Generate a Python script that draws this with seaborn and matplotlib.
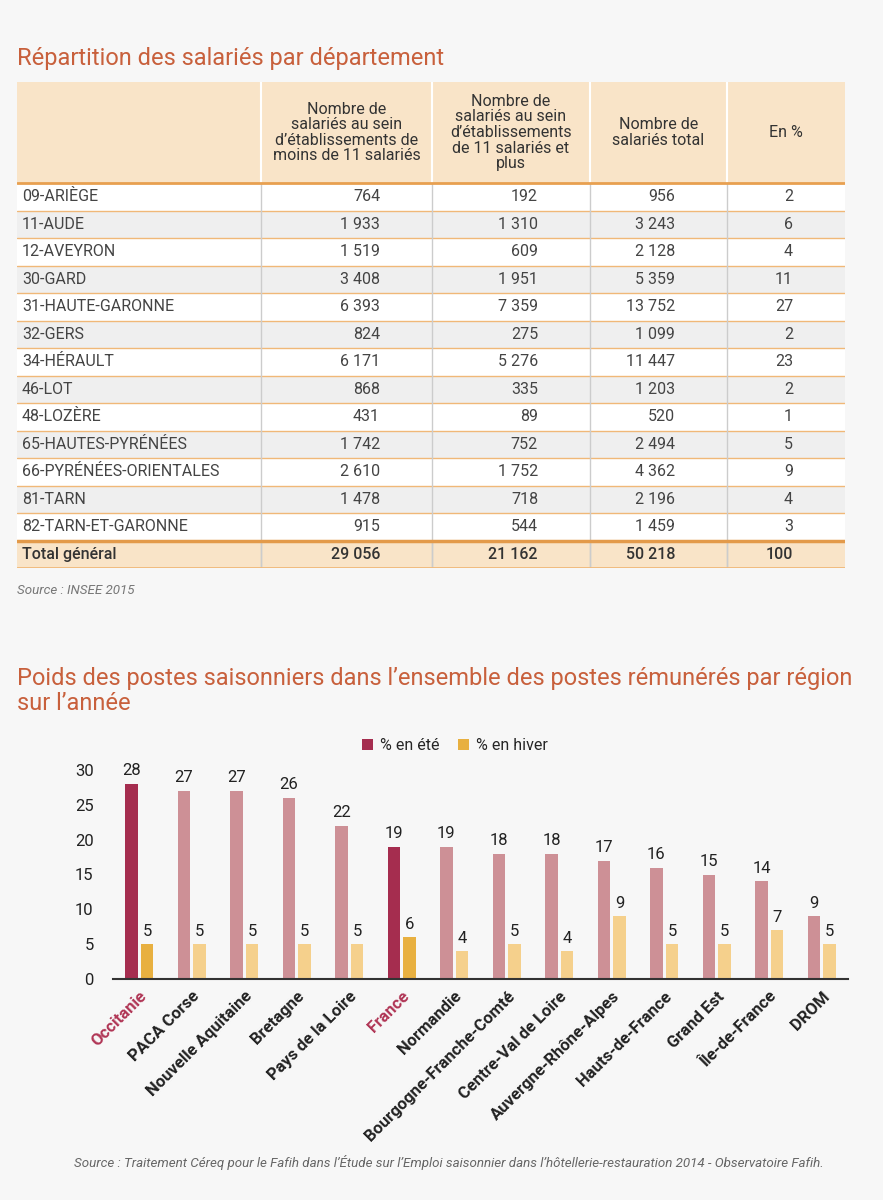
import pandas as pd
import matplotlib
matplotlib.use('Agg')
import matplotlib.pyplot as plt
from matplotlib.patches import Rectangle, Patch
import seaborn as sns

# --- table data ---
departements = ['09-ARIÈGE', '11-AUDE', '12-AVEYRON', '30-GARD', '31-HAUTE-GARONNE',
                '32-GERS', '34-HÉRAULT', '46-LOT', '48-LOZÈRE', '65-HAUTES-PYRÉNÉES',
                '66-PYRÉNÉES-ORIENTALES', '81-TARN', '82-TARN-ET-GARONNE']
moins_11 = [764, 1933, 1519, 3408, 6393, 824, 6171, 868, 431, 1742, 2610, 1478, 915]
plus_11 = [192, 1310, 609, 1951, 7359, 275, 5276, 335, 89, 752, 1752, 718, 544]
total = [956, 3243, 2128, 5359, 13752, 1099, 11447, 1203, 520, 2494, 4362, 2196, 1459]
pct = [2, 6, 4, 11, 27, 2, 23, 2, 1, 5, 9, 4, 3]
total_general = [29056, 21162, 50218, 100]
headers = ['', 'Nombre de\nsalariés au sein\nd\u2019établissements de\nmoins de 11 salariés',
           'Nombre de\nsalariés au sein\nd\u2019établissements\nde 11 salariés et\nplus',
           'Nombre de\nsalariés total', 'En %']

# --- chart data ---
regions = ['Occitanie', 'PACA Corse', 'Nouvelle Aquitaine', 'Bretagne', 'Pays de la Loire',
           'France', 'Normandie', 'Bourgogne-Franche-Comté', 'Centre-Val de Loire',
           'Auvergne-Rhône-Alpes', 'Hauts-de-France', 'Grand Est', 'Île-de-France', 'DROM']
ete = [28, 27, 27, 26, 22, 19, 19, 18, 18, 17, 16, 15, 14, 9]
hiver = [5, 5, 5, 5, 5, 6, 4, 5, 4, 9, 5, 5, 7, 5]
highlight = ['Occitanie', 'France']

TITLE_C = '#c8603c'
TEXT_C = '#444444'
ETE_DARK, ETE_LIGHT = '#a52d4f', '#cd9096'
HIV_DARK, HIV_LIGHT = '#e8b040', '#f5d08c'

sns.set_theme(style='white')
plt.rcParams['font.family'] = ['Roboto', 'DejaVu Sans']

W, H = 883, 1200
fig = plt.figure(figsize=(W / 100, H / 100), dpi=100, facecolor='#f7f7f7')


def fx(x):
    return x / W


def fy(y):
    return 1 - y / H


# ---------------- table ----------------
fig.text(fx(17), fy(58), 'Répartition des salariés par département', fontsize=17,
         color=TITLE_C, va='center', ha='left')

ax_t = fig.add_axes([fx(17), fy(568), 828 / W, 486 / H])
ax_t.set_xlim(0, 828)
ax_t.set_ylim(486, 0)
ax_t.axis('off')

col_edges = [0, 244, 415, 573, 710, 828]
head_h, row_h = 101, 27.5
body_top = head_h
tot_top = head_h + row_h * len(departements)
FS = 11.5

ax_t.add_patch(Rectangle((0, 0), 828, head_h, fc='#f9e4c8', ec='none'))
for e in col_edges[1:-1]:
    ax_t.plot([e, e], [0, head_h], color='white', lw=1.5)
for j, h in enumerate(headers):
    cx = (col_edges[j] + col_edges[j + 1]) / 2
    ax_t.text(cx, head_h / 2, h, ha='center', va='center', fontsize=11.5,
              color='#333333', linespacing=1.05)

for i, dep in enumerate(departements):
    y0 = body_top + row_h * i
    fc = '#efefef' if i % 2 == 1 else 'white'
    ax_t.add_patch(Rectangle((0, y0), 828, row_h, fc=fc, ec='none'))
    ax_t.text(5, y0 + row_h / 2, dep, ha='left', va='center', fontsize=FS, color=TEXT_C)
    for j, v in enumerate([moins_11[i], plus_11[i], total[i], pct[i]]):
        ax_t.text(col_edges[j + 2] - 52, y0 + row_h / 2, f'{v:,}'.replace(',', ' '),
                  ha='right', va='center', fontsize=FS, color=TEXT_C)
    if i > 0:
        ax_t.plot([0, 828], [y0, y0], color='#f0b878', lw=1)

for e in col_edges[1:-1]:
    ax_t.plot([e, e], [body_top, 486], color='#cccccc', lw=1)

ax_t.add_patch(Rectangle((0, tot_top), 828, 486 - tot_top, fc='#f9e4c8', ec='none', zorder=0.5))
for e in col_edges[1:-1]:
    ax_t.plot([e, e], [tot_top, 486], color='#cccccc', lw=1)
ax_t.text(5, (tot_top + 486) / 2, 'Total général', ha='left', va='center',
          fontsize=FS, color='#333333', fontweight='medium')
for j, v in enumerate(total_general):
    ax_t.text(col_edges[j + 2] - 52, (tot_top + 486) / 2, f'{v:,}'.replace(',', ' '),
              ha='right', va='center', fontsize=FS, color='#333333', fontweight='medium')
ax_t.plot([0, 828], [body_top, body_top], color='#e8a050', lw=2)
ax_t.plot([0, 828], [tot_top, tot_top], color='#e39a4a', lw=2.5)
ax_t.plot([0, 828], [486, 486], color='#f0b878', lw=2)

fig.text(fx(17), fy(590), 'Source : INSEE 2015', fontsize=9.6, style='italic',
         color='#777777', va='center')

# ---------------- bar chart ----------------
fig.text(fx(17), fy(667), 'Poids des postes saisonniers dans l\u2019ensemble des postes '
         'rémunérés par région\nsur l\u2019année', fontsize=17, color=TITLE_C,
         va='top', ha='left', linespacing=1.12)

df = pd.DataFrame({
    'region': regions * 2,
    'valeur': ete + hiver,
    'saison': ['% en été'] * len(regions) + ['% en hiver'] * len(regions),
})

ax = fig.add_axes([fx(113), fy(979), 735 / W, 209 / H])
ax.set_facecolor('none')
sns.barplot(data=df, x='region', y='valeur', hue='saison', order=regions,
            palette=[ETE_DARK, HIV_DARK], saturation=1, width=0.6, gap=0.2,
            legend=False, ax=ax)

for cont, light in zip(ax.containers, [ETE_LIGHT, HIV_LIGHT]):
    for reg, patch in zip(regions, cont.patches):
        if reg not in highlight:
            patch.set_facecolor(light)
        patch.set_edgecolor('none')
    ax.bar_label(cont, fmt='%d', padding=4, fontsize=12, color='#222222')

ax.set_ylim(0, 30)
ax.set_yticks(range(0, 31, 5))
ax.set_xlabel('')
ax.set_ylabel('')
ax.tick_params(axis='y', length=0, pad=14, labelsize=12, labelcolor='#222222')
ax.tick_params(axis='x', length=0, pad=7)
ax.set_xticks(range(len(regions)))
ax.set_xticklabels(regions, rotation=45, ha='right', rotation_mode='anchor',
                   fontsize=12, fontweight='bold')
for lbl in ax.get_xticklabels():
    lbl.set_color('#b03555' if lbl.get_text() in highlight else '#222222')
for s in ['top', 'right', 'left']:
    ax.spines[s].set_visible(False)
ax.spines['bottom'].set_color('#333333')
ax.spines['bottom'].set_linewidth(1.5)

handles = [Patch(fc=ETE_DARK, ec='none', label='% en été'),
           Patch(fc=HIV_DARK, ec='none', label='% en hiver')]
ax.legend(handles=handles, loc='center', bbox_to_anchor=(0.465, 1.115), ncol=2,
          frameon=False, fontsize=11.5, handlelength=0.7, handleheight=0.7,
          handletextpad=0.4, columnspacing=1.2)

fig.text(fx(449), fy(1163), 'Source : Traitement Céreq pour le Fafih dans l\u2019Étude sur '
         'l\u2019Emploi saisonnier dans l\u2019hôtellerie-restauration 2014 - Observatoire Fafih.',
         fontsize=9.6, style='italic', color='#666666', ha='center', va='center')

fig.savefig('out.png', dpi=100, facecolor=fig.get_facecolor())
